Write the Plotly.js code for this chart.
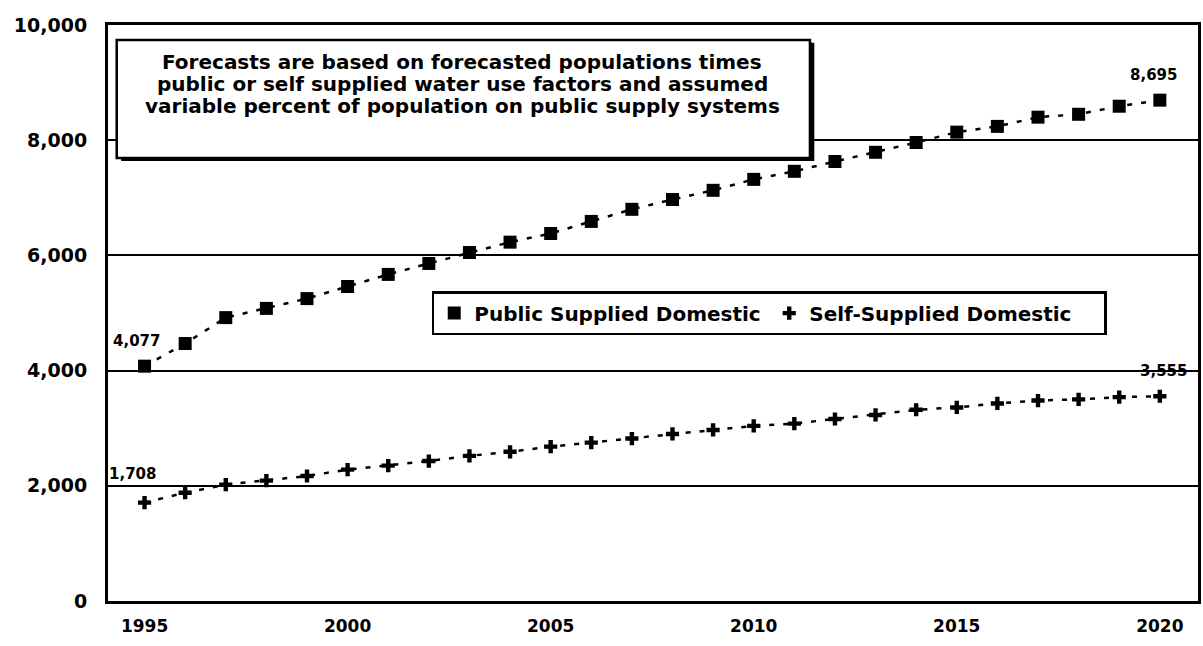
<!DOCTYPE html>
<html>
<head>
<meta charset="utf-8">
<script src="https://cdn.plot.ly/plotly-3.0.1.min.js"></script>
<style>html,body{margin:0;padding:0;background:#fff;}#chart{width:1203px;height:646px;}</style>
</head>
<body>
<div id="chart"></div>
<script>
const years = [1995,1996,1997,1998,1999,2000,2001,2002,2003,2004,2005,2006,2007,2008,2009,2010,2011,2012,2013,2014,2015,2016,2017,2018,2019,2020];
const publicSupplied = [4077,4470,4920,5080,5250,5460,5670,5860,6050,6230,6380,6590,6800,6970,7130,7320,7460,7630,7790,7960,8140,8240,8400,8450,8590,8695];
const selfSupplied = [1708,1880,2020,2090,2170,2280,2350,2430,2520,2590,2680,2750,2820,2900,2970,3040,3080,3160,3230,3320,3360,3430,3480,3500,3540,3555];
const seriesNames = ['Public Supplied Domestic', 'Self-Supplied Domestic'];
const yTicks = [0,2000,4000,6000,8000,10000];
const yTickLabels = ['0','2,000','4,000','6,000','8,000','10,000'];
const xTicks = [1995,2000,2005,2010,2015,2020];
const noteLines = [
  'Forecasts are based on forecasted populations times',
  'public or self supplied water use factors and assumed',
  'variable percent of population on public supply systems'
];
const fmt = v => v.toLocaleString('en-US');

const font = {family: 'DejaVu Sans', size: 16, color: '#000', weight: 'bold'};
const dashLine = {color: '#000', width: 2.5, dash: '5px,9px'};

const traces = [
  {x: years, y: publicSupplied, type: 'scatter', mode: 'lines', line: dashLine, showlegend: false, hoverinfo: 'skip'},
  {x: years, y: selfSupplied, type: 'scatter', mode: 'lines', line: dashLine, showlegend: false, hoverinfo: 'skip'},
  {x: years, y: publicSupplied, name: seriesNames[0], type: 'scatter', mode: 'markers',
   marker: {symbol: 'square', size: 13, color: '#000'}},
  {x: years, y: selfSupplied, name: seriesNames[1], type: 'scatter', mode: 'markers',
   marker: {symbol: 'cross', size: 11, color: '#000'}}
];

const last = years.length - 1;
const labelFont = {family: 'DejaVu Sans', size: 15, color: '#000', weight: 'bold'};
const annotations = [
  {x: years[0], y: publicSupplied[0], xref: 'x', yref: 'y', text: fmt(publicSupplied[0]), showarrow: false, xanchor: 'center', yanchor: 'bottom', xshift: -8, yshift: 14, font: labelFont},
  {x: years[last], y: publicSupplied[last], xref: 'x', yref: 'y', text: fmt(publicSupplied[last]), showarrow: false, xanchor: 'center', yanchor: 'bottom', xshift: -6, yshift: 14, font: labelFont},
  {x: years[0], y: selfSupplied[0], xref: 'x', yref: 'y', text: fmt(selfSupplied[0]), showarrow: false, xanchor: 'center', yanchor: 'bottom', xshift: -12, yshift: 18, font: labelFont},
  {x: years[last], y: selfSupplied[last], xref: 'x', yref: 'y', text: fmt(selfSupplied[last]), showarrow: false, xanchor: 'center', yanchor: 'bottom', xshift: 4, yshift: 14, font: labelFont}
];
const noteY = [0.936, 0.898, 0.859];
noteLines.forEach((t, i) => {
  annotations.push({x: 0.325, y: noteY[i], xref: 'paper', yref: 'paper', text: t, showarrow: false,
    xanchor: 'center', yanchor: 'middle', font: {family: 'DejaVu Sans', size: 20, color: '#000', weight: 'bold'}});
});

const shapes = [
  {type: 'rect', xref: 'paper', yref: 'paper', x0: 0.012, x1: 0.648, y0: 0.764, y1: 0.969, line: {width: 0}, fillcolor: '#000', layer: 'above'},
  {type: 'rect', xref: 'paper', yref: 'paper', x0: 0.008, x1: 0.644, y0: 0.769, y1: 0.974, line: {color: '#000', width: 2.5}, fillcolor: '#fff', layer: 'above'}
];

const layout = {
  width: 1203, height: 646,
  margin: {l: 108, r: 5, t: 25, b: 45, autoexpand: false},
  paper_bgcolor: '#fff', plot_bgcolor: '#fff',
  font: font,
  showlegend: true,
  legend: {
    orientation: 'h', x: 0.297, y: 0.538, xanchor: 'left', yanchor: 'top',
    bgcolor: '#fff', bordercolor: '#000', borderwidth: 2.5,
    font: {family: 'DejaVu Sans', size: 20, color: '#000', weight: 'bold'},
    itemwidth: 30, entrywidth: 290, tracegroupgap: 0
  },
  xaxis: {
    range: [1994.1, 2020.94], tickmode: 'array', tickvals: xTicks, ticktext: xTicks.map(String),
    showgrid: false, zeroline: false, showline: true, linecolor: '#000', linewidth: 3, mirror: true,
    ticks: '', ticklabelstandoff: 8, tickfont: {family: 'DejaVu Sans', size: 17, color: '#000', weight: 'bold'}
  },
  yaxis: {
    range: [0, 10000], tickmode: 'array', tickvals: yTicks, ticktext: yTickLabels,
    showgrid: true, gridcolor: '#000', gridwidth: 2, zeroline: false,
    showline: true, linecolor: '#000', linewidth: 3, mirror: true,
    ticks: '', ticklabelstandoff: 14, tickfont: {family: 'DejaVu Sans', size: 19, color: '#000', weight: 'bold'}
  },
  annotations: annotations,
  shapes: shapes
};

Plotly.newPlot('chart', traces, layout, {displayModeBar: false, staticPlot: true});
</script>
</body>
</html>
